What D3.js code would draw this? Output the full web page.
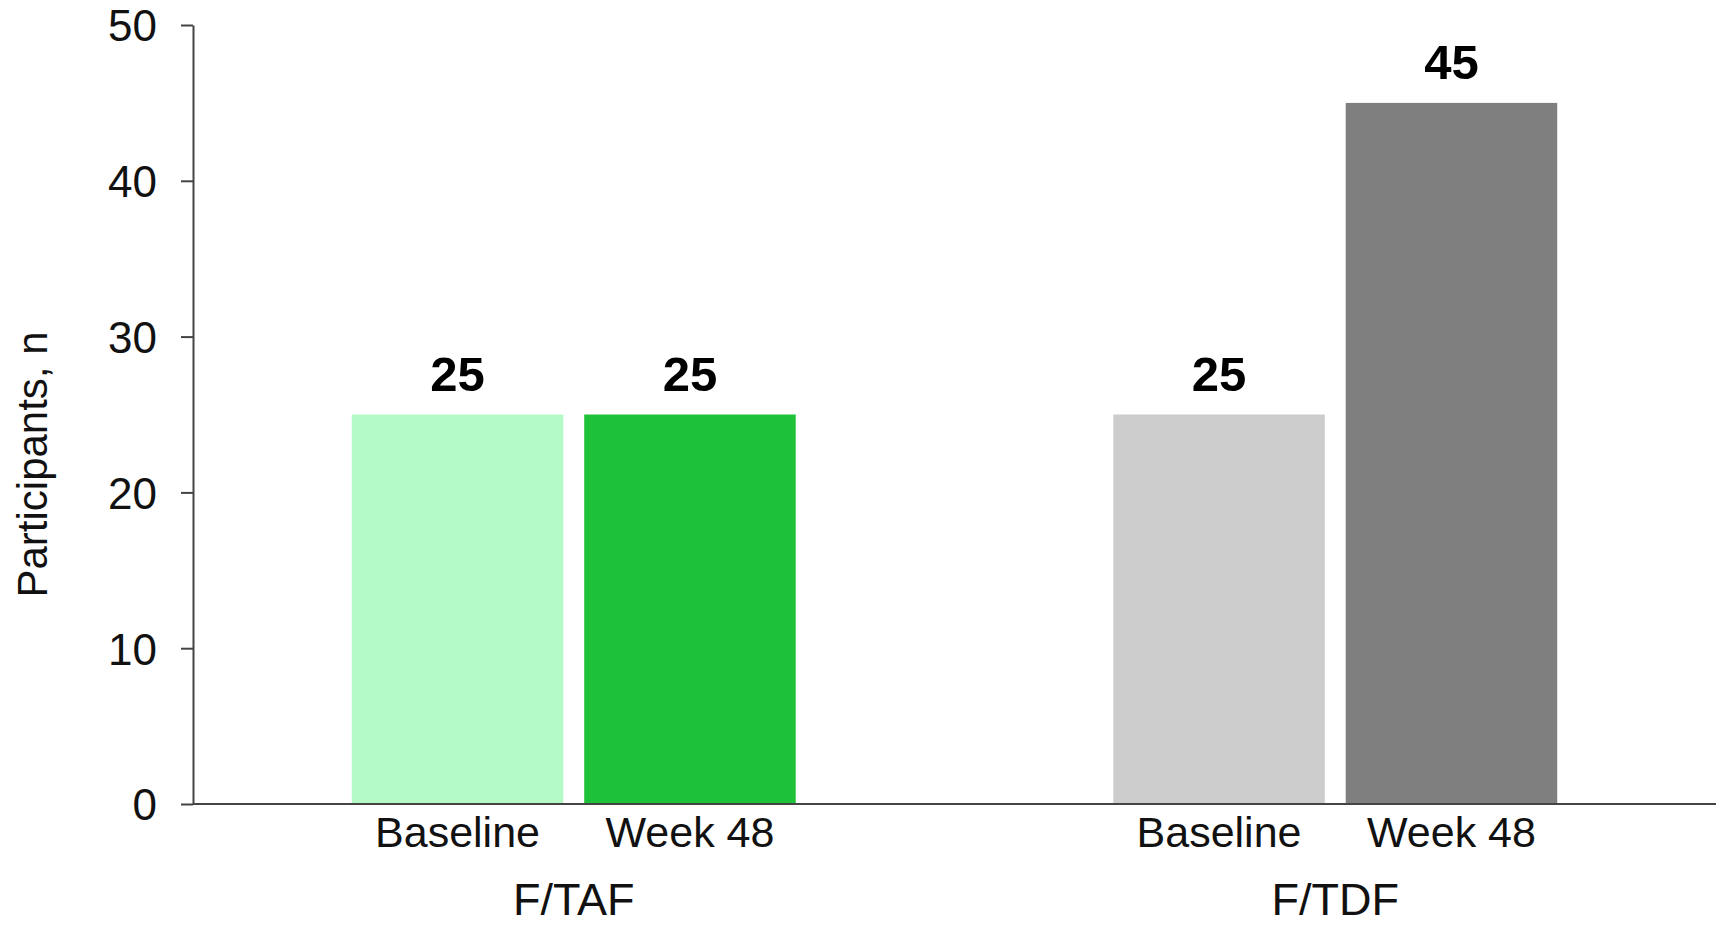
<!DOCTYPE html>
<html>
<head>
<meta charset="utf-8">
<script src="https://cdn.jsdelivr.net/npm/d3@7"></script>
<style>
  html, body { margin: 0; padding: 0; background: #fff; }
  svg { display: block; font-family: "Liberation Sans", Arial, Helvetica, sans-serif; }
</style>
</head>
<body>
<svg id="chart" width="1727" height="926"></svg>
<script>
// Participants at baseline and week 48, per treatment arm
const groups = ["F/TAF", "F/TDF"];
const timepoints = ["Baseline", "Week 48"];
const ftafValues = [25, 25];
const ftdfValues = [25, 45];
const yTicks = [0, 10, 20, 30, 40, 50];
const barColors = {
  "F/TAF": ["#b4fac6", "#1ec238"],
  "F/TDF": ["#cccccc", "#7f7f7f"]
};

const rows = [
  ...timepoints.map((t, i) => ({ group: "F/TAF", time: t, value: ftafValues[i], color: barColors["F/TAF"][i] })),
  ...timepoints.map((t, i) => ({ group: "F/TDF", time: t, value: ftdfValues[i], color: barColors["F/TDF"][i] }))
];

const svg = d3.select("#chart");
const plotLeft = 193, plotRight = 1716, plotTop = 25, plotBottom = 804;

const y = d3.scaleLinear().domain([0, 50]).range([plotBottom, plotTop]);
const x0 = d3.scaleBand().domain(groups).range([plotLeft, plotRight])
  .paddingInner(0.417).paddingOuter(0.2085);
const x1 = d3.scaleBand().domain(timepoints).range([0, x0.bandwidth()])
  .paddingInner(0.09).paddingOuter(0);

const axisColor = "#444";

// Bars
svg.append("g").selectAll("rect").data(rows).join("rect")
  .attr("x", d => x0(d.group) + x1(d.time))
  .attr("y", d => y(d.value))
  .attr("width", x1.bandwidth())
  .attr("height", d => y(0) - y(d.value))
  .attr("fill", d => d.color);

// Value labels
svg.append("g").selectAll("text").data(rows).join("text")
  .attr("x", d => x0(d.group) + x1(d.time) + x1.bandwidth() / 2)
  .attr("y", d => y(d.value) - 24)
  .attr("text-anchor", "middle")
  .attr("font-size", 49)
  .attr("font-weight", "bold")
  .attr("fill", "#000")
  .text(d => d.value);

// Y axis
const yAxis = svg.append("g")
  .attr("transform", `translate(${plotLeft},0)`)
  .call(d3.axisLeft(y).tickValues(yTicks).tickSize(12).tickSizeOuter(0).tickPadding(24));
yAxis.select(".domain").attr("stroke", axisColor).attr("stroke-width", 2);
yAxis.selectAll(".tick line").attr("stroke", axisColor).attr("stroke-width", 2);
yAxis.selectAll(".tick text")
  .attr("font-size", 44)
  .attr("font-family", "Liberation Sans, Arial, sans-serif")
  .attr("fill", "#111")
  .attr("dy", "0.36em");

// X baseline
svg.append("line")
  .attr("x1", plotLeft).attr("x2", plotRight)
  .attr("y1", y(0)).attr("y2", y(0))
  .attr("stroke", axisColor).attr("stroke-width", 2);

// Timepoint labels under each bar
svg.append("g").selectAll("text").data(rows).join("text")
  .attr("x", d => x0(d.group) + x1(d.time) + x1.bandwidth() / 2)
  .attr("y", 847)
  .attr("text-anchor", "middle")
  .attr("font-size", 43)
  .attr("fill", "#111")
  .text(d => d.time);

// Group labels
svg.append("g").selectAll("text").data(groups).join("text")
  .attr("x", d => x0(d) + x0.bandwidth() / 2)
  .attr("y", 915)
  .attr("text-anchor", "middle")
  .attr("font-size", 45)
  .attr("fill", "#111")
  .text(d => d);

// Y axis title
svg.append("text")
  .attr("transform", `translate(47,${(plotTop + plotBottom) / 2 + 50}) rotate(-90)`)
  .attr("text-anchor", "middle")
  .attr("font-size", 42)
  .attr("fill", "#111")
  .text("Participants, n");
</script>
</body>
</html>
